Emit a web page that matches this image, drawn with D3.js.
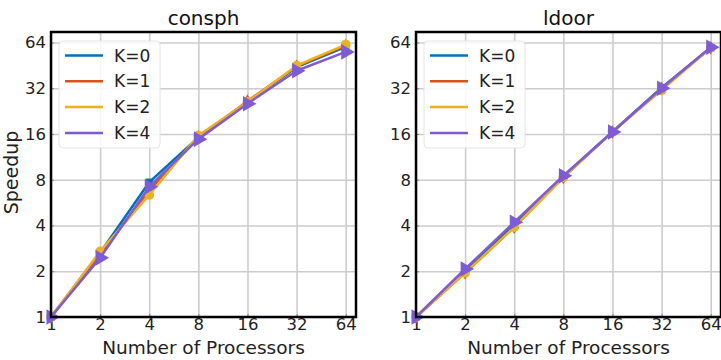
<!DOCTYPE html>
<html>
<head>
<meta charset="utf-8">
<script src="https://cdn.jsdelivr.net/npm/d3@7"></script>
<style>
  body { margin: 0; background: #fff; }
  svg { display: block; font-family: "DejaVu Sans", sans-serif; }
</style>
</head>
<body>
<svg id="chart"></svg>
<script>
const width = 721, height = 360;

// data
const procs = [1, 2, 4, 8, 16, 32, 64];
const tickVals = [1, 2, 4, 8, 16, 32, 64];
const seriesNames = ["K=0", "K=1", "K=2", "K=4"];
const colors = ["#0072BD", "#D95319", "#EDB120", "#7E5CD8"];
const markers = ["square", "diamond", "circle", "triangle"];

const consphK0 = [1, 2.65, 7.7, 15.2, 26.0, 44.0, 60.0];
const consphK1 = [1, 2.6, 6.8, 15.3, 26.3, 44.5, 61.0];
const consphK2 = [1, 2.7, 6.35, 15.6, 26.0, 45.0, 62.0];
const consphK4 = [1, 2.45, 7.2, 14.8, 25.3, 41.7, 55.5];

const ldoorK0 = [1, 2.0, 4.05, 8.4, 16.6, 32.3, 59.0];
const ldoorK1 = [1, 1.95, 3.9, 8.3, 16.5, 31.8, 59.0];
const ldoorK2 = [1, 1.95, 3.9, 8.3, 16.6, 31.0, 59.0];
const ldoorK4 = [1, 2.07, 4.2, 8.5, 16.5, 32.0, 59.5];

const svg = d3.select('#chart')
    .attr('width', width)
    .attr('height', height);

const drawPanel = (g, props) => {
    const { title, series, left, top, w, h, showYLabel } = props;

    const xScale = d3.scaleLog().base(2).domain([1, 74]).range([0, w]);
    const yScale = d3.scaleLog().base(2).domain([1, 75]).range([h, 0]);

    const panel = g.append('g').attr('transform', `translate(${left},${top})`);

    // grid
    panel.append('g')
        .call(d3.axisBottom(xScale).tickValues(tickVals).tickSize(h).tickFormat(''))
        .call(a => a.select('.domain').remove())
        .call(a => a.selectAll('line').attr('stroke', '#cccccc').attr('stroke-width', 1.6));
    panel.append('g')
        .call(d3.axisLeft(yScale).tickValues(tickVals).tickSize(-w).tickFormat(''))
        .call(a => a.select('.domain').remove())
        .call(a => a.selectAll('line').attr('stroke', '#cccccc').attr('stroke-width', 1.6));

    // tick labels
    const xAxis = panel.append('g')
        .attr('transform', `translate(0,${h})`)
        .call(d3.axisBottom(xScale).tickValues(tickVals).tickSize(3).tickPadding(-2).tickFormat(d3.format('d')));
    xAxis.select('.domain').remove();
    xAxis.selectAll('line').attr('stroke', '#888').attr('transform', 'translate(0,-3)');
    xAxis.selectAll('text').attr('font-size', 16.5).attr('fill', '#222')
        .attr('font-family', '"DejaVu Sans", sans-serif');

    const yAxis = panel.append('g')
        .call(d3.axisLeft(yScale).tickValues(tickVals).tickSize(3).tickPadding(2).tickFormat(d3.format('d')));
    yAxis.select('.domain').remove();
    yAxis.selectAll('line').attr('stroke', '#888').attr('transform', 'translate(3,0)');
    yAxis.selectAll('text').attr('font-size', 16.5).attr('fill', '#222')
        .attr('font-family', '"DejaVu Sans", sans-serif');

    // lines and markers
    const line = d3.line()
        .x((d, i) => xScale(procs[i]))
        .y(d => yScale(d));

    series.forEach((vals, k) => {
        const sg = panel.append('g');
        sg.append('path')
            .datum(vals)
            .attr('d', line)
            .attr('fill', 'none')
            .attr('stroke', colors[k])
            .attr('stroke-width', 2.5)
            .attr('stroke-linejoin', 'round');
        const sym = {
            square: d3.symbol().type(d3.symbolSquare).size(55),
            diamond: d3.symbol().type(d3.symbolDiamond).size(55),
            circle: d3.symbol().type(d3.symbolCircle).size(75),
            triangle: d3.symbol().type(d3.symbolTriangle).size(105)
        }[markers[k]];
        sg.selectAll('path.mk')
            .data(vals)
            .enter().append('path')
            .attr('class', 'mk')
            .attr('d', sym)
            .attr('fill', colors[k])
            .attr('transform', (d, i) => {
                const rot = markers[k] === 'triangle' ? ' rotate(90)' : '';
                return `translate(${xScale(procs[i])},${yScale(d)})${rot}`;
            });
    });

    // frame
    panel.append('rect')
        .attr('width', w).attr('height', h)
        .attr('fill', 'none')
        .attr('stroke', '#000')
        .attr('stroke-width', 2.5);

    // title
    panel.append('text')
        .attr('x', w / 2).attr('y', -7)
        .attr('text-anchor', 'middle')
        .attr('font-size', 20)
        .attr('fill', '#111')
        .text(title);

    // x label
    panel.append('text')
        .attr('x', w / 2).attr('y', h + 37)
        .attr('text-anchor', 'middle')
        .attr('font-size', 18.5)
        .attr('fill', '#222')
        .text('Number of Processors');

    if (showYLabel) {
        panel.append('text')
            .attr('transform', `translate(-33,${h / 2 - 2}) rotate(-90)`)
            .attr('text-anchor', 'middle')
            .attr('font-size', 19)
            .attr('fill', '#222')
            .text('Speedup');
    }

    // legend
    const lg = panel.append('g').attr('transform', 'translate(8,9)');
    lg.append('rect')
        .attr('width', 101).attr('height', 107)
        .attr('rx', 4)
        .attr('fill', '#fff').attr('fill-opacity', 0.85)
        .attr('stroke', '#e4e4e4');
    seriesNames.forEach((name, k) => {
        const y = 14.5 + k * 25.8;
        lg.append('line')
            .attr('x1', 6).attr('x2', 44)
            .attr('y1', y).attr('y2', y)
            .attr('stroke', colors[k])
            .attr('stroke-width', 2.5);
        lg.append('text')
            .attr('x', 55).attr('y', y + 6)
            .attr('font-size', 17)
            .attr('fill', '#222')
            .text(name);
    });
};

drawPanel(svg, {
    title: 'consph',
    series: [consphK0, consphK1, consphK2, consphK4],
    left: 51, top: 32, w: 305, h: 285, showYLabel: true
});
drawPanel(svg, {
    title: 'ldoor',
    series: [ldoorK0, ldoorK1, ldoorK2, ldoorK4],
    left: 416, top: 32, w: 305, h: 285, showYLabel: false
});
</script>
</body>
</html>
